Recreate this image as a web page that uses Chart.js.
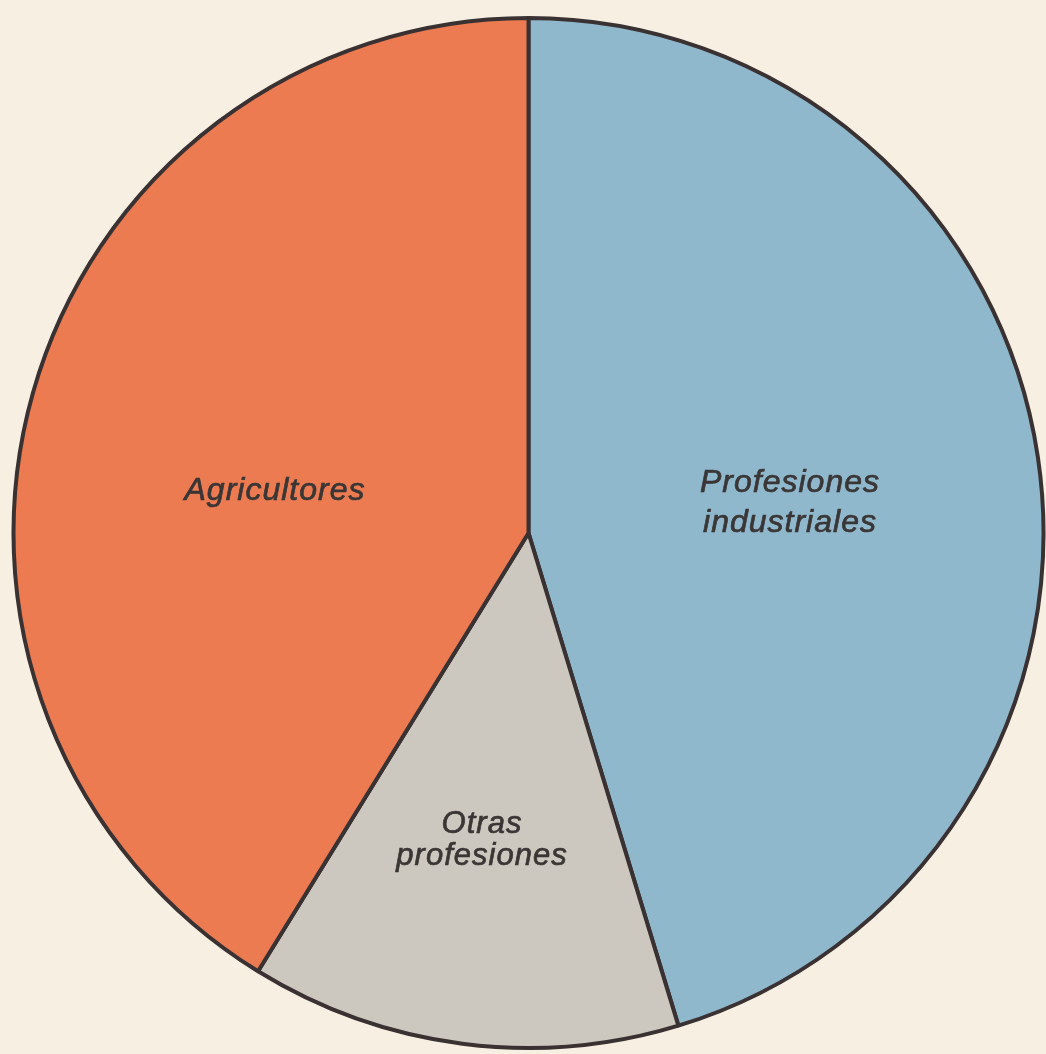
<!DOCTYPE html>
<html>
<head>
<meta charset="utf-8">
<script src="https://cdn.jsdelivr.net/npm/chart.js@4"></script>
<style>
  html, body { margin: 0; padding: 0; background: #f7f0e2; }
  #wrap { width: 1046px; height: 1054px; position: relative; }
</style>
</head>
<body>
<div id="wrap"><canvas id="pie"></canvas></div>
<script>
// valores (porcentaje aproximado)
const categorias = ["Profesiones industriales", "Otras profesiones", "Agricultores"];
const valores = [45.3, 13.5, 41.2];
const colores = ["#8fb8cd", "#cdc8bf", "#ec7b51"];

// texto de cada porción, en líneas, con posición de la etiqueta
const etiquetas = [
  { lineas: ["Profesiones", "industriales"], x: 790, y: 492, size: 32, gap: 40 },
  { lineas: ["Otras", "profesiones"], x: 482, y: 833, size: 31, gap: 32 },
  { lineas: ["Agricultores"], x: 275, y: 500, size: 32, gap: 40 }
];

const textoPlugin = {
  id: "texto",
  afterDatasetsDraw(chart) {
    const ctx = chart.ctx;
    ctx.save();
    ctx.fillStyle = "#3a3636";
    ctx.strokeStyle = "#3a3636";
    ctx.lineWidth = 0.7;
    ctx.textAlign = "center";
    ctx.textBaseline = "alphabetic";
    etiquetas.forEach(e => {
      ctx.font = "italic " + e.size + "px 'Liberation Sans', Arial, sans-serif";
      ctx.letterSpacing = "1px";
      e.lineas.forEach((l, j) => {
        ctx.fillText(l, e.x, e.y + j * e.gap);
        ctx.strokeText(l, e.x, e.y + j * e.gap);
      });
    });
    ctx.restore();
  }
};

new Chart(document.getElementById("pie"), {
  type: "pie",
  data: {
    labels: categorias,
    datasets: [{
      data: valores,
      backgroundColor: colores,
      borderColor: "#3a3232",
      borderWidth: 4
    }]
  },
  options: {
    responsive: true,
    maintainAspectRatio: false,
    animation: false,
    radius: 515,
    layout: { padding: { left: 11, right: 0, top: 12, bottom: 0 } },
    plugins: {
      legend: { display: false },
      tooltip: { enabled: false }
    }
  },
  plugins: [textoPlugin]
});
</script>
</body>
</html>
